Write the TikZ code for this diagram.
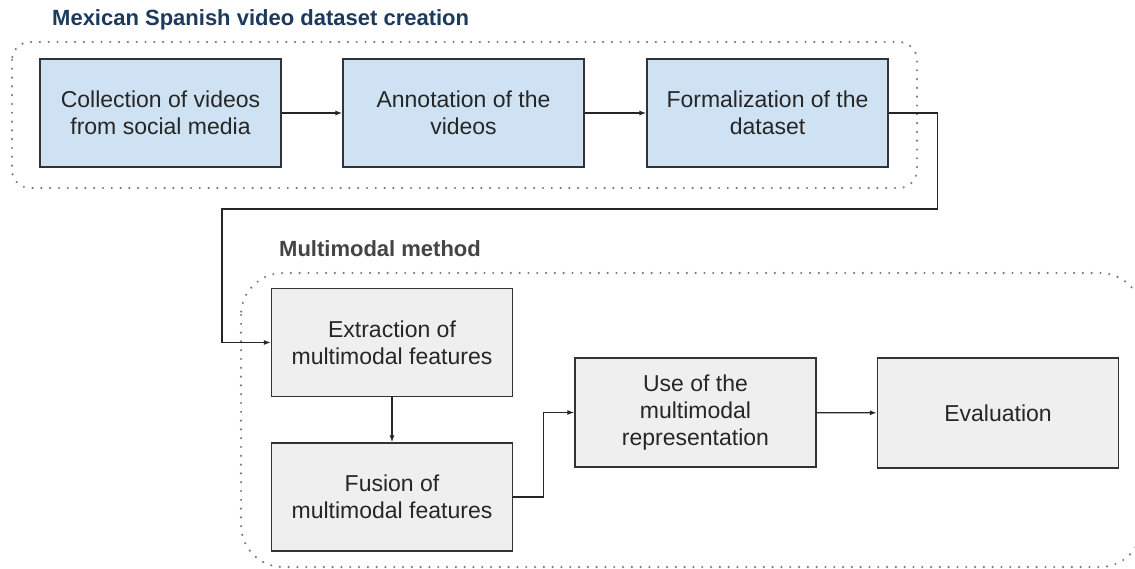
\documentclass[tikz,border=0pt]{standalone}
\usepackage{fontspec}
\setmainfont{Liberation Sans}
\usetikzlibrary{arrows.meta}
\definecolor{boxblue}{HTML}{CFE2F3}
\definecolor{boxgray}{HTML}{EFEFEF}
\definecolor{edge}{HTML}{333333}
\definecolor{titleblue}{HTML}{1C3A5E}
\definecolor{titlegray}{HTML}{444444}
\definecolor{dotgray}{HTML}{7A7A7A}
\tikzset{
  stepbox/.style={draw=edge, line width=1.4pt, minimum width=241pt, minimum height=108pt,
    align=center, font=\fontsize{23}{27}\selectfont, text=black!85, inner sep=0pt},
  bluebox/.style={stepbox, fill=boxblue},
  graybox/.style={stepbox, fill=boxgray},
  arr/.style={draw=black!85, line width=1.2pt, -{Latex[length=7pt,width=5pt]}},
  dotframe/.style={draw=dotgray, line width=2.4pt, line cap=round, dash pattern=on 0pt off 8.8pt},
  heading/.style={anchor=west, font=\bfseries\fontsize{22}{26}\selectfont, inner sep=0pt}
}
\begin{document}
\begin{tikzpicture}[x=1pt, y=-1pt]
\useasboundingbox (0,0) rectangle (1135,569);
\clip (0,0) rectangle (1135,569);
\fill[white] (0,0) rectangle (1135,569);

% frames
\draw[dotframe, rounded corners=18pt] (12,42) rectangle (917,188);
\draw[dotframe, rounded corners=42pt] (241,273) rectangle (1142,567);

% headings
\node[heading, text=titleblue] (t1) at (52,20) {Mexican Spanish video dataset creation};
\node[heading, text=titlegray] (t2) at (279,249) {Multimodal method};

% top boxes
\node[bluebox] (b1) at (160.5,113) {Collection of videos\\from social media};
\node[bluebox] (b2) at (463.5,113) {Annotation of the\\videos};
\node[bluebox] (b3) at (767.5,113) {Formalization of the\\dataset};

% bottom boxes
\node[graybox] (ext) at (392,342.5) {Extraction of\\multimodal features};
\node[graybox] (fus) at (392,497) {Fusion of\\multimodal features};
\node[graybox, minimum height=109pt] (use) at (695.5,412.5) {Use of the\\multimodal\\representation};
\node[graybox, minimum height=110pt] (ev) at (998,413) {Evaluation};

\coordinate (turn) at (222,209);

% connectors
\draw[arr] (b1) -- (b2);
\draw[arr] (b2) -- (b3);
\draw[arr] (b3.east) -- ++(49,0) |- (turn) |- (ext.west);
\draw[arr] (ext) -- (fus);
\draw[arr] (fus.east) -- ++(30,0) |- (use.west);
\draw[arr] (use) -- (ev);
\end{tikzpicture}
\end{document}
